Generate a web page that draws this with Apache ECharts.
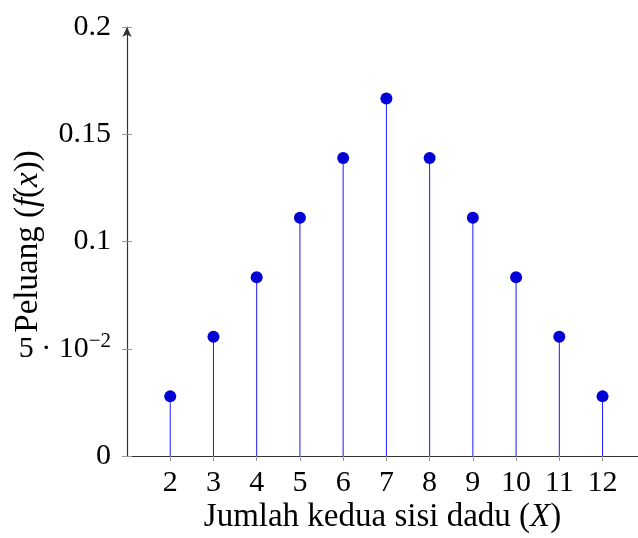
<!DOCTYPE html>
<html>
<head>
<meta charset="utf-8">
<script src="https://cdn.jsdelivr.net/npm/echarts@6/dist/echarts.min.js"></script>
<style>
    html, body { margin: 0; padding: 0; background: #fff; }
    #main { width: 638px; height: 538px; }
</style>
</head>
<body>
<div id="main"></div>
<script>
// jumlah dua dadu dan peluangnya
var sums = [2, 3, 4, 5, 6, 7, 8, 9, 10, 11, 12];
var probs = [0.0278, 0.0556, 0.0833, 0.1111, 0.1389, 0.1667, 0.1389, 0.1111, 0.0833, 0.0556, 0.0278];
var yTicks = [0, 0.05, 0.1, 0.15, 0.2];

~function () {
    var myChart = echarts.init(document.getElementById('main'));
    var font = 'Liberation Serif';
    var points = sums.map(function (s, i) { return [s, probs[i]]; });

    var yLabel = function (v) {
        if (Math.abs(v - 0.05) < 1e-9) return '5 · 10{sup|−2}';
        return String(v);
    };

    var option = {
        animation: false,
        textStyle: { fontFamily: font },
        grid: { left: 127, right: 0, top: 27, bottom: 82, outerBoundsMode: 'none' },
        xAxis: {
            type: 'value',
            min: 1,
            max: 12.82,
            interval: 1,
            name: 'Jumlah kedua sisi dadu ({i|X})',
            nameLocation: 'middle',
            nameGap: 45,
            nameMoveOverlap: false,
            nameTextStyle: {
                fontFamily: font, fontSize: 33, color: '#000',
                rich: { i: { fontFamily: font, fontSize: 33, fontStyle: 'italic', color: '#000' } }
            },
            axisLine: { lineStyle: { color: '#333', width: 1.2 } },
            axisTick: { customValues: sums, length: 5, lineStyle: { color: '#999' } },
            axisLabel: { customValues: sums, fontFamily: font, fontSize: 30, color: '#000', margin: 12 },
            splitLine: { show: false }
        },
        yAxis: [
            {
                type: 'value',
                min: 0,
                max: 0.2,
                interval: 0.05,
                name: 'Peluang ({i|f}({i|x}))',
                nameLocation: 'middle',
                nameGap: 82,
                nameMoveOverlap: false,
                nameTextStyle: {
                    fontFamily: font, fontSize: 33, color: '#000',
                    rich: { i: { fontFamily: font, fontSize: 33, fontStyle: 'italic', color: '#000' } }
                },
                axisLine: { show: true, lineStyle: { color: '#333', width: 1.2 }, symbol: ['none', 'arrow'], symbolSize: [7, 10] },
                axisTick: { show: true, length: 5, lineStyle: { color: '#999' } },
                axisLabel: {
                    fontFamily: font, fontSize: 30, color: '#000', margin: 16,
                    formatter: yLabel,
                    rich: { sup: { fontFamily: font, fontSize: 21, color: '#000', verticalAlign: 'top', padding: [0, 0, 14, 0] } }
                },
                splitLine: { show: false }
            },
            {
                type: 'value',
                min: 0,
                max: 0.2,
                interval: 0.05,
                position: 'left',
                axisLine: { show: false },
                axisTick: { show: true, inside: true, length: 5, lineStyle: { color: '#999' } },
                axisLabel: { show: false },
                splitLine: { show: false }
            }
        ],
        series: [
            {
                type: 'bar',
                data: points,
                barWidth: 1,
                itemStyle: { color: '#1a1aff' },
                silent: true
            },
            {
                type: 'scatter',
                data: points,
                symbol: 'circle',
                symbolSize: 12,
                itemStyle: { color: '#0000d4', opacity: 1 },
                z: 3
            }
        ]
    };
    myChart.setOption(option);
}();
</script>
</body>
</html>
